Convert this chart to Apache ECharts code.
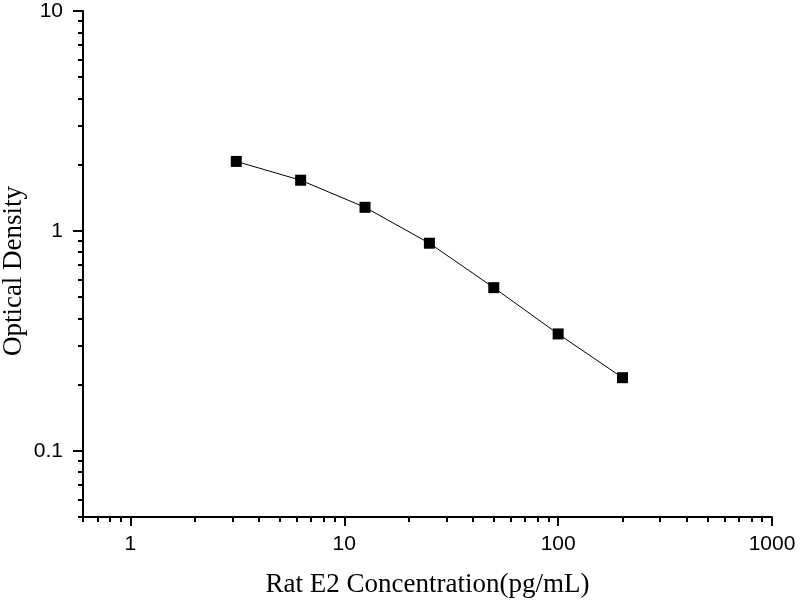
<!DOCTYPE html>
<html>
<head>
<meta charset="utf-8">
<script src="https://cdn.jsdelivr.net/npm/echarts@6/dist/echarts.min.js"></script>
<style>
  html, body { margin: 0; padding: 0; background: #fff; }
  #chart { width: 800px; height: 600px; }
</style>
</head>
<body>
<div id="chart"></div>
<script>
const concentration = [3.125, 6.25, 12.5, 25, 50, 100, 200];
const density = [2.07, 1.70, 1.28, 0.879, 0.552, 0.340, 0.215];

const xMajor = [1, 10, 100, 1000];
const xMinor = [0.6, 0.7, 0.8, 0.9, 2, 3, 4, 5, 6, 7, 8, 9,
  20, 30, 40, 50, 60, 70, 80, 90, 200, 300, 400, 500, 600, 700, 800, 900];
const yMajor = [0.1, 1, 10];
const yMinor = [0.05, 0.06, 0.07, 0.08, 0.09, 0.2, 0.3, 0.4, 0.5, 0.6, 0.7, 0.8, 0.9,
  2, 3, 4, 5, 6, 7, 8, 9];

const chart = echarts.init(document.getElementById("chart"));

const fmt = (v) => String(Number(v.toPrecision(6)));
const axisColor = "#000";
const labelFont = { color: "#000", fontFamily: "Liberation Sans", fontSize: 21 };
const nameFont = { color: "#000", fontFamily: "Liberation Serif", fontSize: 27 };

const chartOption = {
  backgroundColor: "#fff",
  animation: false,
  grid: { left: 83, right: 28, top: 11, bottom: 83, outerBoundsMode: "none" },
  xAxis: [
    {
      type: "log",
      min: 0.6,
      max: 1000,
      name: "Rat E2 Concentration(pg/mL)",
      nameLocation: "middle",
      nameGap: 54,
      nameMoveOverlap: false,
      nameTextStyle: nameFont,
      axisLine: { lineStyle: { color: axisColor, width: 2 } },
      axisTick: { length: 9, lineStyle: { color: axisColor, width: 2 }, customValues: xMajor },
      axisLabel: Object.assign({ margin: 17, formatter: fmt, customValues: xMajor }, labelFont),
      splitLine: { show: false },
    },
    {
      type: "log",
      min: 0.6,
      max: 1000,
      position: "bottom",
      axisLine: { show: false },
      axisTick: { length: 5, lineStyle: { color: axisColor, width: 2 }, customValues: xMinor },
      axisLabel: { show: false },
      splitLine: { show: false },
    },
  ],
  yAxis: [
    {
      type: "log",
      min: 0.05,
      max: 10,
      name: "Optical Density",
      nameLocation: "middle",
      nameGap: 56,
      nameMoveOverlap: false,
      nameTextStyle: Object.assign({ padding: [0, 14, 0, 0] }, nameFont),
      axisLine: { lineStyle: { color: axisColor, width: 2 } },
      axisTick: { length: 10, lineStyle: { color: axisColor, width: 2 }, customValues: yMajor },
      axisLabel: Object.assign({ margin: 20, formatter: fmt, customValues: yMajor }, labelFont),
      splitLine: { show: false },
    },
    {
      type: "log",
      min: 0.05,
      max: 10,
      position: "left",
      axisLine: { show: false },
      axisTick: { length: 5, lineStyle: { color: axisColor, width: 2 }, customValues: yMinor },
      axisLabel: { show: false },
      splitLine: { show: false },
    },
  ],
  series: [
    {
      type: "line",
      data: concentration.map((c, i) => [c, density[i]]),
      symbol: "rect",
      symbolSize: 11,
      itemStyle: { color: "#000" },
      lineStyle: { color: "#000", width: 1 },
    },
  ],
};

chart.setOption(chartOption);

window.addEventListener("resize", () => {
  chart.resize();
});
</script>
</body>
</html>
